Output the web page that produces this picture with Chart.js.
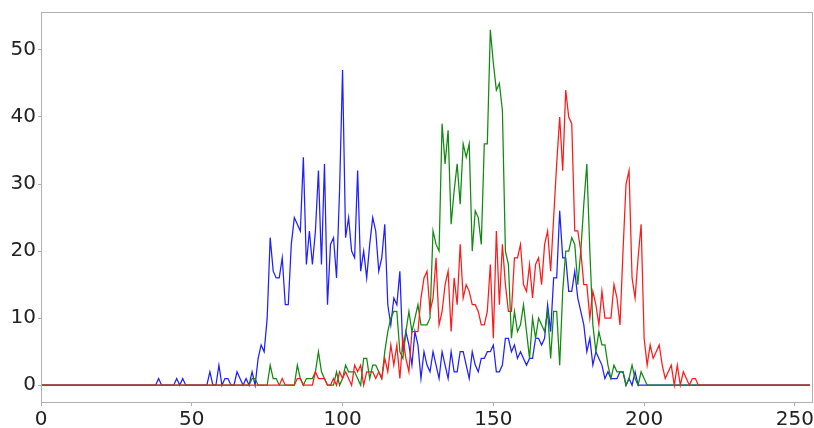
<!DOCTYPE html>
<html>
<head>
<meta charset="utf-8">
<script src="https://cdn.jsdelivr.net/npm/chart.js@4.4.1/dist/chart.umd.min.js"></script>
<style>
  html, body { margin: 0; padding: 0; background: #fff; }
  #hist { display: block; }
</style>
</head>
<body>
<canvas id="hist" width="814" height="428"></canvas>
<script>
// ── Colour histogram: one count per intensity level (0–255) ──────────
const blue = [
  0,0,0,0,0,0,0,0,0,0,0,0,0,0,0,0,
  0,0,0,0,0,0,0,0,0,0,0,0,0,0,0,0,
  0,0,0,0,0,0,0,1,0,0,0,0,0,1,0,1,
  0,0,0,0,0,0,0,0,2,0,0,3,0,1,1,0,
  0,2,1,0,1,0,2,0,4,6,5,10,22,17,16,16,
  19,12,12,21,25,24,23,34,18,23,18,23,32,18,33,12,
  21,22,16,29,47,22,25,20,19,32,17,20,16,21,25,23,
  17,19,24,12,9,13,12,17,5,8,6,3,8,6,1,5,
  3,2,5,3,1,5,3,1,5,2,2,5,5,3,1,5,
  3,2,4,4,5,5,6,2,2,3,7,7,5,6,4,5,
  4,3,4,4,7,7,6,7,12,8,16,16,26,19,19,14,
  14,17,13,11,9,5,7,3,5,4,3,1,2,1,1,1,
  2,2,0,1,0,2,0,0,0,0,0,0,0,0,0,0,
  0,0,0,0,0,0,0,0,0,0,0,0,0,0,0,0,
  0,0,0,0,0,0,0,0,0,0,0,0,0,0,0,0,
  0,0,0,0,0,0,0,0,0,0,0,0,0,0,0,0
];

const green = [
  0,0,0,0,0,0,0,0,0,0,0,0,0,0,0,0,
  0,0,0,0,0,0,0,0,0,0,0,0,0,0,0,0,
  0,0,0,0,0,0,0,0,0,0,0,0,0,0,0,0,
  0,0,0,0,0,0,0,0,0,0,0,0,0,0,0,0,
  0,0,0,0,0,0,1,1,0,0,0,0,3,1,1,0,
  0,0,0,0,0,3,1,0,1,1,1,2,5,2,1,0,
  0,0,2,0,1,3,2,2,2,1,0,4,4,1,3,3,
  2,1,5,8,10,11,11,5,4,8,11,8,10,12,9,9,
  9,10,23,21,20,39,33,38,24,29,33,27,36,34,36,20,
  26,25,21,36,36,53,48,44,45,41,20,18,7,11,8,9,
  12,8,4,10,7,10,9,8,11,4,11,11,3,14,20,20,
  22,21,15,20,27,33,20,9,5,8,6,6,3,1,3,2,
  2,2,0,1,3,1,0,2,1,0,0,0,0,0,0,0,
  0,0,0,0,0,0,0,0,0,0,0,0,0,0,0,0,
  0,0,0,0,0,0,0,0,0,0,0,0,0,0,0,0,
  0,0,0,0,0,0,0,0,0,0,0,0,0,0,0,0
];

const red = [
  0,0,0,0,0,0,0,0,0,0,0,0,0,0,0,0,
  0,0,0,0,0,0,0,0,0,0,0,0,0,0,0,0,
  0,0,0,0,0,0,0,0,0,0,0,0,0,0,0,0,
  0,0,0,0,0,0,0,0,0,0,0,0,0,0,0,0,
  0,0,0,0,0,0,0,0,0,0,0,0,0,0,0,0,
  1,0,0,0,0,1,1,0,0,0,0,2,1,1,1,0,
  0,1,0,2,1,2,1,0,3,2,3,0,2,2,2,1,
  2,1,4,2,6,3,6,1,7,4,2,8,8,8,13,16,
  17,11,13,19,9,11,15,17,8,16,12,21,13,15,14,12,
  12,11,9,9,11,18,7,23,12,21,15,11,11,19,19,21,
  15,14,18,13,18,19,15,21,23,17,25,33,40,32,44,40,
  39,23,23,20,15,15,10,14,12,9,14,10,10,10,15,13,
  9,20,30,32,16,13,19,24,7,3,6,4,5,6,3,1,
  2,3,0,3,0,2,1,0,1,1,0,0,0,0,0,0,
  0,0,0,0,0,0,0,0,0,0,0,0,0,0,0,0,
  0,0,0,0,0,0,0,0,0,0,0,0,0,0,0,0
];

const xTicks = [0, 50, 100, 150, 200, 250];
const yTicks = [0, 10, 20, 30, 40, 50];

// intensity level of each bin
const bins = blue.map((_, i) => i);
const toPoints = arr => arr.map((v, i) => ({ x: bins[i], y: v }));

// matplotlib-style box round the plot area
const frame = {
  id: 'frame',
  afterDatasetsDraw(chart) {
    const { ctx, chartArea: a } = chart;
    ctx.save();
    ctx.strokeStyle = '#b0b0b0';
    ctx.lineWidth = 1;
    ctx.strokeRect(Math.round(a.left) + 0.5, Math.round(a.top) + 0.5,
                   Math.round(a.right - a.left) - 1, Math.round(a.bottom - a.top) - 1);
    ctx.restore();
  }
};

const tickFont = { family: 'DejaVu Sans', size: 20, lineHeight: 1 };

new Chart(document.getElementById('hist'), {
  type: 'line',
  data: {
    datasets: [
      { data: toPoints(blue),  borderColor: '#1f1fff', order: 2 },
      { data: toPoints(green), borderColor: '#108a10', order: 1 },
      { data: toPoints(red),   borderColor: '#ff1a1a', order: 0 }
    ]
  },
  options: {
    responsive: false,
    animation: false,
    devicePixelRatio: 1,
    layout: { padding: { top: 12, right: 1, left: 0, bottom: 0 } },
    elements: {
      line: { borderWidth: 1.25, tension: 0, fill: false },
      point: { radius: 0, hoverRadius: 0 }
    },
    plugins: { legend: { display: false }, tooltip: { enabled: false } },
    scales: {
      x: {
        type: 'linear',
        min: 0,
        max: 256,
        afterBuildTicks: s => { s.ticks = xTicks.map(v => ({ value: v })); },
        afterFit: s => { s.height = 25; s.paddingLeft = 0; s.paddingRight = 0; },
        ticks: { font: tickFont, color: '#222', padding: 4, maxRotation: 0, autoSkip: false },
        grid: { drawOnChartArea: false, tickLength: 3, tickColor: '#b0b0b0' },
        border: { display: false }
      },
      y: {
        type: 'linear',
        min: -2.65,
        max: 55.65,
        afterBuildTicks: s => { s.ticks = yTicks.map(v => ({ value: v })); },
        afterFit: s => { s.width = 41; },
        ticks: { font: tickFont, color: '#222', padding: 2 },
        grid: { drawOnChartArea: false, tickLength: 3, tickColor: '#b0b0b0' },
        border: { display: false }
      }
    }
  },
  plugins: [frame]
});
</script>
</body>
</html>
